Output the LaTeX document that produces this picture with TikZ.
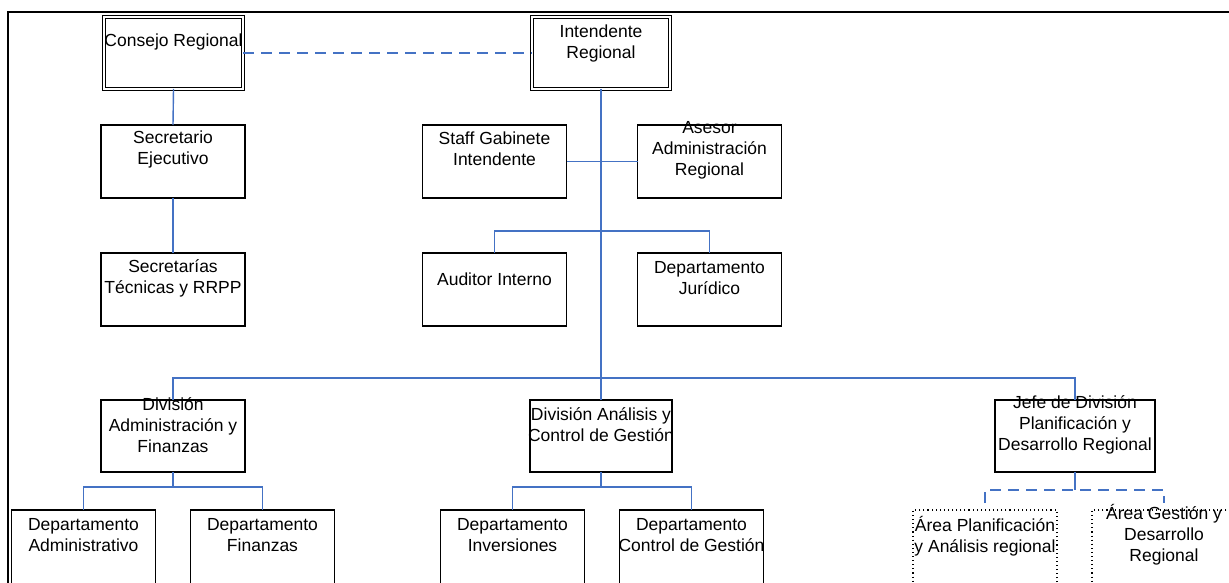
\documentclass[tikz,border=0pt]{standalone}
\usepackage{fontspec}
\setmainfont{Liberation Sans}
\definecolor{linkblue}{RGB}{68,114,196}
\begin{document}
\begin{tikzpicture}[x=1pt,y=-1pt,
  box/.style={draw=black,line width=1.2pt,minimum width=144pt,minimum height=73pt,inner sep=0pt,outer sep=0pt},
  dbox/.style={box,double=white,double distance=2.2pt,line width=1pt},
  dotbox/.style={box,draw=black,line width=1.1pt,dash pattern=on 1.1pt off 3pt},
  txt/.style={font=\fontsize{17.5pt}{21pt}\selectfont,align=center,inner sep=0pt},
  link/.style={draw=linkblue,line width=1.4pt},
  dlink/.style={link,dash pattern=on 11pt off 7pt}]
\useasboundingbox (0,0) rectangle (1229,583);
\clip (0,0) rectangle (1229,583);
\fill[white] (0,0) rectangle (1229,583);

% outer frame
\draw[line width=2.6pt] (1240,12) -- (8,12) -- (8,600);

% boxes
\node[dbox,minimum width=139pt,minimum height=72pt] (cr) at (173.5,53) {};
\node[dbox,minimum width=138pt,minimum height=72pt] (ir) at (601,53) {};
\node[box] (se)  at (173,161.5) {};
\node[box] (st)  at (173,289.5) {};
\node[box] (sg)  at (494.5,161.5) {};
\node[box] (as)  at (709.5,161.5) {};
\node[box] (ai)  at (494.5,289.5) {};
\node[box] (jur) at (709.5,289.5) {};
\node[box,minimum height=72pt] (daf) at (173,436) {};
\node[box,minimum width=142pt,minimum height=72pt] (dac) at (601,436) {};
\node[box,minimum width=160pt,minimum height=72pt] (jefe) at (1075,436) {};
\node[box,minimum height=76pt] (dadm) at (83.5,548) {};
\node[box,minimum height=76pt] (dfin) at (262.5,548) {};
\node[box,minimum height=76pt] (dinv) at (512.5,548) {};
\node[box,minimum height=76pt] (dcg)  at (691.5,548) {};
\node[dotbox,minimum height=76pt] (apl) at (985,548) {};
\node[dotbox,minimum height=76pt] (agd) at (1164,548) {};

% labels
\node[txt] (cr-t)  at ([yshift=-25pt]cr.north)  {Consejo Regional};
\node[txt] (ir-t)  at ([yshift=-26pt]ir.north)  {Intendente\\Regional};
\node[txt] (se-t)  at ([yshift=-24pt]se.north)  {Secretario\\Ejecutivo};
\node[txt] (st-t)  at ([yshift=-25pt]st.north)  {Secretarías\\Técnicas y RRPP};
\node[txt] (sg-t)  at ([yshift=-24pt]sg.north)  {Staff Gabinete\\Intendente};
\node[txt] (as-t)  at ([yshift=-25pt]as.north)  {Asesor\\Administración\\Regional};
\node[txt] (ai-t)  at ([yshift=-26pt]ai.north)  {Auditor Interno};
\node[txt] (jur-t) at ([yshift=-25pt]jur.north) {Departamento\\Jurídico};
\node[txt] (daf-t) at ([yshift=-25pt]daf.north) {División\\Administración y\\Finanzas};
\node[txt] (dac-t) at ([yshift=-25pt]dac.north) {División Análisis y\\Control de Gestión};
\node[txt] (jefe-t) at ([yshift=-25pt]jefe.north) {Jefe de División\\Planificación y\\Desarrollo Regional};
\node[txt] (dadm-t) at ([yshift=-25pt]dadm.north) {Departamento\\Administrativo};
\node[txt] (dfin-t) at ([yshift=-25pt]dfin.north) {Departamento\\Finanzas};
\node[txt] (dinv-t) at ([yshift=-25pt]dinv.north) {Departamento\\Inversiones};
\node[txt] (dcg-t)  at ([yshift=-25pt]dcg.north)  {Departamento\\Control de Gestión};
\node[txt] (apl-t)  at ([yshift=-26pt]apl.north)  {Área Planificación\\y Análisis regional};
\node[txt] (agd-t)  at ([yshift=-25pt]agd.north)  {Área Gestión y\\Desarrollo\\Regional};

% connectors
\draw[dlink] (cr.east) -- (ir.west);
\draw[link] (cr.south) -- (se.north);
\draw[link] (se.south) -- (st.north);
\draw[link] (ir.south) -- (dac.north);
\draw[link] (sg.east) -- (as.west);
\draw[link] (ai.north) -- ++(0,-22) -| (jur.north);
\coordinate (bus) at (601,378);
\draw[link] (daf.north) |- (bus) -| (jefe.north);
\draw[link] (daf.south) -- ++(0,15) -| (dadm.north);
\draw[link] (daf.south) -- ++(0,15) -| (dfin.north);
\draw[link] (dac.south) -- ++(0,15) -| (dinv.north);
\draw[link] (dac.south) -- ++(0,15) -| (dcg.north);
\draw[link] (jefe.south) -- ++(0,18) coordinate (jj);
\draw[dlink] ([yshift=7pt]apl.north) |- (jj) -| ([yshift=7pt]agd.north);
\end{tikzpicture}
\end{document}
